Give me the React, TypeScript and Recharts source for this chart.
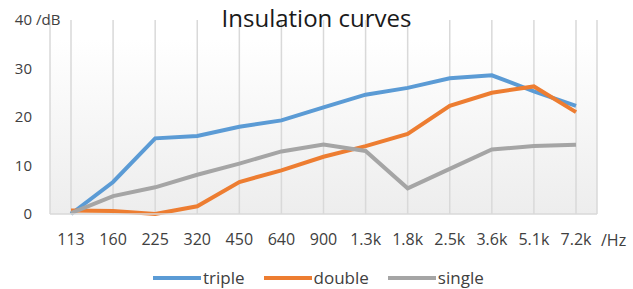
import { LineChart, Line, XAxis, YAxis, CartesianGrid, Legend, Label } from 'recharts';

const FREQS = ['113', '160', '225', '320', '450', '640', '900', '1.3k', '1.8k', '2.5k', '3.6k', '5.1k', '7.2k'];
const TRIPLE = [0, 6.6, 15.6, 16.1, 18, 19.3, 22, 24.6, 26, 28, 28.6, 25.3, 22.3];
const DOUBLE = [0.7, 0.6, 0, 1.6, 6.6, 9, 11.8, 14, 16.5, 22.3, 25, 26.3, 21];
const SINGLE = [0.2, 3.7, 5.5, 8.1, 10.4, 12.9, 14.3, 13, 5.3, 9.3, 13.3, 14, 14.3];
const Y_TICKS = [0, 10, 20, 30, 40];

const SERIES = [
  { key: 'triple', values: TRIPLE, color: '#5b9bd5' },
  { key: 'double', values: DOUBLE, color: '#ed7d31' },
  { key: 'single', values: SINGLE, color: '#a5a5a5' },
];

const FONT = '"Open Sans", sans-serif';
const TEXT = '#404040';

const data = FREQS.map((f, i) => {
  const row: Record<string, string | number> = { freq: f };
  SERIES.forEach((s) => {
    row[s.key] = s.values[i];
  });
  return row;
});

function YTick(props: any) {
  const { y, payload } = props;
  return (
    <g>
      <text x={32} y={y} dy={5} textAnchor="end" fontSize={15} fill={TEXT} fontFamily={FONT}>
        {payload.value}
      </text>
      {payload.value === 40 && (
        <text x={36} y={y} dy={5} fontSize={15} fill={TEXT} fontFamily={FONT}>
          /dB
        </text>
      )}
    </g>
  );
}

function LegendBox() {
  return (
    <div style={{ display: 'flex', justifyContent: 'flex-start', gap: 19, fontFamily: FONT, fontSize: 17, color: TEXT, paddingTop: 12, paddingLeft: 153 }}>
      {SERIES.map((s) => (
        <div key={s.key} style={{ display: 'flex', alignItems: 'center' }}>
          <span style={{ display: 'inline-block', width: 48, height: 4, background: s.color, marginRight: 2 }} />
          <span>{s.key}</span>
        </div>
      ))}
    </div>
  );
}

export default function App() {
  return (
    <div style={{ position: 'absolute', left: 0, top: 0, width: 633, height: 289, background: '#fff' }}>
      <div
        style={{
          position: 'absolute',
          top: 1,
          left: 0,
          width: 633,
          textAlign: 'center',
          fontFamily: FONT,
          fontSize: 24,
          color: '#1a1a1a',
          zIndex: 1,
        }}
      >
        Insulation curves
      </div>
      <LineChart width={633} height={289} data={data} margin={{ top: 20, right: 36, bottom: 0, left: 0 }}>
        <defs>
          <linearGradient id="plotBg" x1="0" y1="0" x2="0" y2="1">
            <stop offset="10%" stopColor="#ffffff" />
            <stop offset="100%" stopColor="#ededed" />
          </linearGradient>
        </defs>
        <CartesianGrid horizontal={false} stroke="#d9d9d9" strokeWidth={1.5} fill="url(#plotBg)" />
        <XAxis
          dataKey="freq"
          height={40}
          padding={{ left: 21, right: 21 }}
          tickLine={false}
          axisLine={{ stroke: '#d9d9d9', strokeWidth: 1.5 }}
          tick={{ fontSize: 16, fill: TEXT, fontFamily: FONT }}
          tickMargin={14}
          interval={0}
        >
          <Label
            content={(p: any) => {
              const vb = p.viewBox || {};
              return (
                <text x={vb.x + vb.width + 4} y={vb.y + 32} fontSize={16} fill={TEXT} fontFamily={FONT}>
                  /Hz
                </text>
              );
            }}
          />
        </XAxis>
        <YAxis width={50} domain={[0, 40]} ticks={Y_TICKS} axisLine={false} tickLine={false} tick={<YTick />} />
        <Legend verticalAlign="bottom" height={35} content={<LegendBox />} />
        {SERIES.map((s) => (
          <Line
            key={s.key}
            type="linear"
            dataKey={s.key}
            stroke={s.color}
            strokeWidth={4}
            dot={false}
            activeDot={false}
            isAnimationActive={false}
          />
        ))}
      </LineChart>
    </div>
  );
}
